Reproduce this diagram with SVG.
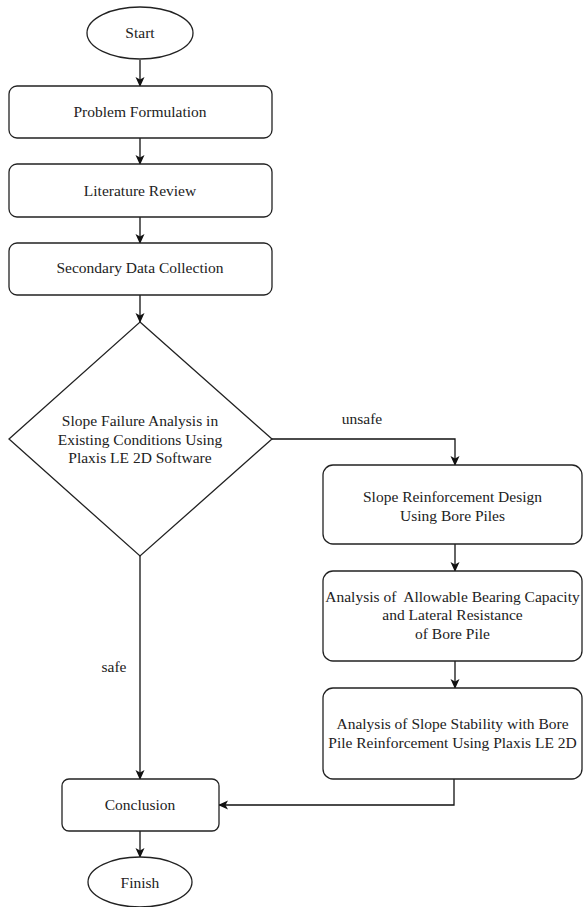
<svg xmlns="http://www.w3.org/2000/svg" width="583" height="907" viewBox="0 0 583 907">
<style>
.s{fill:#fff;stroke:#222;stroke-width:1.3}
.t{font-family:"Liberation Serif","Times New Roman",serif;font-size:15.5px;fill:#222;text-anchor:middle;white-space:pre}
.c{fill:none;stroke:#111;stroke-width:1.3}
</style>
<defs>
<marker id="a" viewBox="0 0 10 10" refX="9" refY="5" markerWidth="10" markerHeight="10" markerUnits="userSpaceOnUse" orient="auto">
<path d="M0,0.5 L10,5 L0,9.5 L2.5,5 Z" fill="#111"/>
</marker>
</defs>
<rect width="583" height="907" fill="#fff"/>
<g id="connectors">
<path class="c" d="M140,60 V86" marker-end="url(#a)"/>
<path class="c" d="M140,138 V164" marker-end="url(#a)"/>
<path class="c" d="M140,217 V243" marker-end="url(#a)"/>
<path class="c" d="M140,295 V322" marker-end="url(#a)"/>
<path class="c" d="M272,439 H455 V465" marker-end="url(#a)"/>
<path class="c" d="M455,544 V571" marker-end="url(#a)"/>
<path class="c" d="M455,661 V688" marker-end="url(#a)"/>
<path class="c" d="M454,779 V805 H219" marker-end="url(#a)"/>
<path class="c" d="M140,556 V779" marker-end="url(#a)"/>
<path class="c" d="M140,831 V857" marker-end="url(#a)"/>
<text class="t" x="362" y="424">unsafe</text>
<text class="t" x="114" y="672">safe</text>
</g>
<g id="start">
<ellipse class="s" cx="140" cy="33" rx="53" ry="26"/>
<text class="t" x="140" y="38">Start</text>
</g>
<g id="problem">
<rect class="s" x="9" y="86" width="263" height="52" rx="8"/>
<text class="t" x="140" y="117">Problem Formulation</text>
</g>
<g id="literature">
<rect class="s" x="9" y="164" width="263" height="53" rx="8"/>
<text class="t" x="140" y="196">Literature Review</text>
</g>
<g id="secondary">
<rect class="s" x="9" y="243" width="263" height="52" rx="8"/>
<text class="t" x="140" y="273">Secondary Data Collection</text>
</g>
<g id="decision">
<polygon class="s" points="140,322 272,439 140,556 9,439"/>
<text class="t" x="140" y="426">Slope Failure Analysis in</text>
<text class="t" x="140" y="445">Existing Conditions Using</text>
<text class="t" x="140" y="463">Plaxis LE 2D Software</text>
</g>
<g id="reinforcement">
<rect class="s" x="323" y="465" width="259" height="79" rx="10"/>
<text class="t" x="452.5" y="502">Slope Reinforcement Design</text>
<text class="t" x="452.5" y="521">Using Bore Piles</text>
</g>
<g id="bearing">
<rect class="s" x="323" y="571" width="259" height="90" rx="10"/>
<text class="t" x="452.5" y="602" xml:space="preserve">Analysis of  Allowable Bearing Capacity</text>
<text class="t" x="452.5" y="620">and Lateral Resistance</text>
<text class="t" x="452.5" y="639">of Bore Pile</text>
</g>
<g id="stability">
<rect class="s" x="323" y="688" width="259" height="91" rx="10"/>
<text class="t" x="452.5" y="729">Analysis of Slope Stability with Bore</text>
<text class="t" x="452.5" y="748">Pile Reinforcement Using Plaxis LE 2D</text>
</g>
<g id="conclusion">
<rect class="s" x="62" y="779" width="157" height="52" rx="7"/>
<text class="t" x="140" y="810">Conclusion</text>
</g>
<g id="finish">
<ellipse class="s" cx="140" cy="882" rx="52" ry="25"/>
<text class="t" x="140" y="888">Finish</text>
</g>
</svg>
